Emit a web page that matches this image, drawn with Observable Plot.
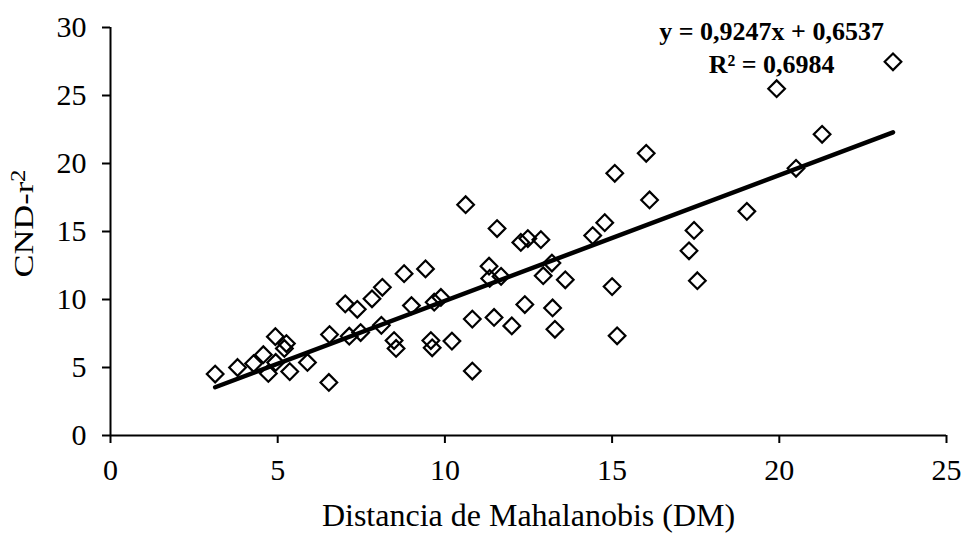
<!DOCTYPE html>
<html><head><meta charset="utf-8">
<script src="https://cdn.jsdelivr.net/npm/d3@7"></script>
<script src="https://cdn.jsdelivr.net/npm/@observablehq/plot@0.6"></script>
<style>body{margin:0;background:#fff} svg{display:block}</style>
</head><body><div id="chart"></div>
<script>
const xValues = [3.13, 3.80, 4.28, 4.57, 4.72, 4.93, 4.94, 5.20, 5.26, 5.36, 5.89, 6.53, 6.55,
  7.02, 7.14, 7.38, 7.48, 7.82, 8.13, 8.10, 8.48, 8.54, 8.78, 9.00, 9.42, 9.58, 9.62, 9.68, 9.88,
  10.21, 10.62, 10.82, 10.82, 11.32, 11.34, 11.47, 11.56, 11.68, 12.00, 12.27, 12.39, 12.48, 12.87,
  12.94, 13.20, 13.22, 13.29, 13.60, 14.42, 14.78, 15.00, 15.08, 15.15, 16.02, 16.12, 17.30, 17.45,
  17.55, 19.03, 19.92, 20.50, 21.28, 23.40];
const yValues = [4.52, 5.00, 5.29, 5.94, 4.56, 7.27, 5.37, 6.40, 6.76, 4.70, 5.37, 3.90, 7.42,
  9.68, 7.30, 9.28, 7.57, 10.05, 10.90, 8.10, 6.98, 6.40, 11.90, 9.55, 12.25, 6.98, 6.45, 9.80, 10.15,
  6.94, 16.97, 8.56, 4.74, 12.45, 11.55, 8.68, 15.22, 11.70, 8.06, 14.20, 9.63, 14.48, 14.40,
  11.75, 12.68, 9.38, 7.81, 11.45, 14.70, 15.65, 10.95, 19.28, 7.33, 20.75, 17.32, 13.58, 15.08,
  11.38, 16.48, 25.50, 19.65, 22.15, 27.48];
const xTicks = [0, 5, 10, 15, 20, 25];
const yTicks = [0, 5, 10, 15, 20, 25, 30];
const slope = 0.9247;
const intercept = 0.6537;
const equationLines = ["y = 0,9247x + 0,6537", "R² = 0,6984"];
const xLabel = "Distancia de Mahalanobis (DM)";
const yLabelBase = "CND-r";
const yLabelSup = "2";

const points = xValues.map((x, i) => ({x, y: yValues[i]}));
const trend = [d3.min(xValues), d3.max(xValues)].map(x => ({x, y: slope * x + intercept}));

const serif = "'Liberation Serif','Times New Roman',Times,serif";
const svg = Plot.plot({
  width: 962, height: 533,
  marginLeft: 110, marginRight: 16, marginTop: 27, marginBottom: 98,
  style: {fontFamily: serif, background: "#fff", color: "#000"},
  x: {domain: [0, 25]},
  y: {domain: [0, 30]},
  marks: [
    Plot.axisX(xTicks, {tickSize: 8, tickPadding: 15, fontSize: 30, label: null, strokeWidth: 2}),
    Plot.axisY(yTicks, {tickSize: 8, tickPadding: 16, fontSize: 30, label: null, strokeWidth: 2}),
    Plot.ruleY([0], {stroke: "#000", strokeWidth: 2}),
    Plot.ruleX([0], {stroke: "#000", strokeWidth: 2}),
    Plot.dot(points, {x: "x", y: "y", symbol: "diamond2", r: 7.5, stroke: "#000", strokeWidth: 2.2, fill: "none"}),
    Plot.line(trend, {x: "x", y: "y", stroke: "#000", strokeWidth: 4.5}),
    Plot.text([equationLines[0]], {x: 19.77, y: 29.73, fontWeight: "bold", fontSize: 26, fill: "#000"}),
    Plot.text([equationLines[1]], {x: 19.77, y: 27.3, fontWeight: "bold", fontSize: 26, fill: "#000"}),
    Plot.text([xLabel], {frameAnchor: "bottom", textAnchor: "middle", lineAnchor: "bottom", dy: 90, fontSize: 32, fill: "#000"}),
    Plot.text([yLabelBase + "²"], {frameAnchor: "left", textAnchor: "middle", lineAnchor: "middle", dx: -86, dy: -8, rotate: -90, fontSize: 28, fill: "#000"})
  ]
});

d3.select(svg).selectAll("text").filter(function () { return this.textContent === yLabelBase + "²"; })
  .each(function () {
    const t = d3.select(this);
    t.text(yLabelBase);
    t.append("tspan").attr("dy", "-0.42em").attr("font-size", "0.72em").text(yLabelSup);
    t.attr("textLength", 108).attr("lengthAdjust", "spacingAndGlyphs");
  });

document.getElementById("chart").appendChild(svg);
</script>
</body></html>
